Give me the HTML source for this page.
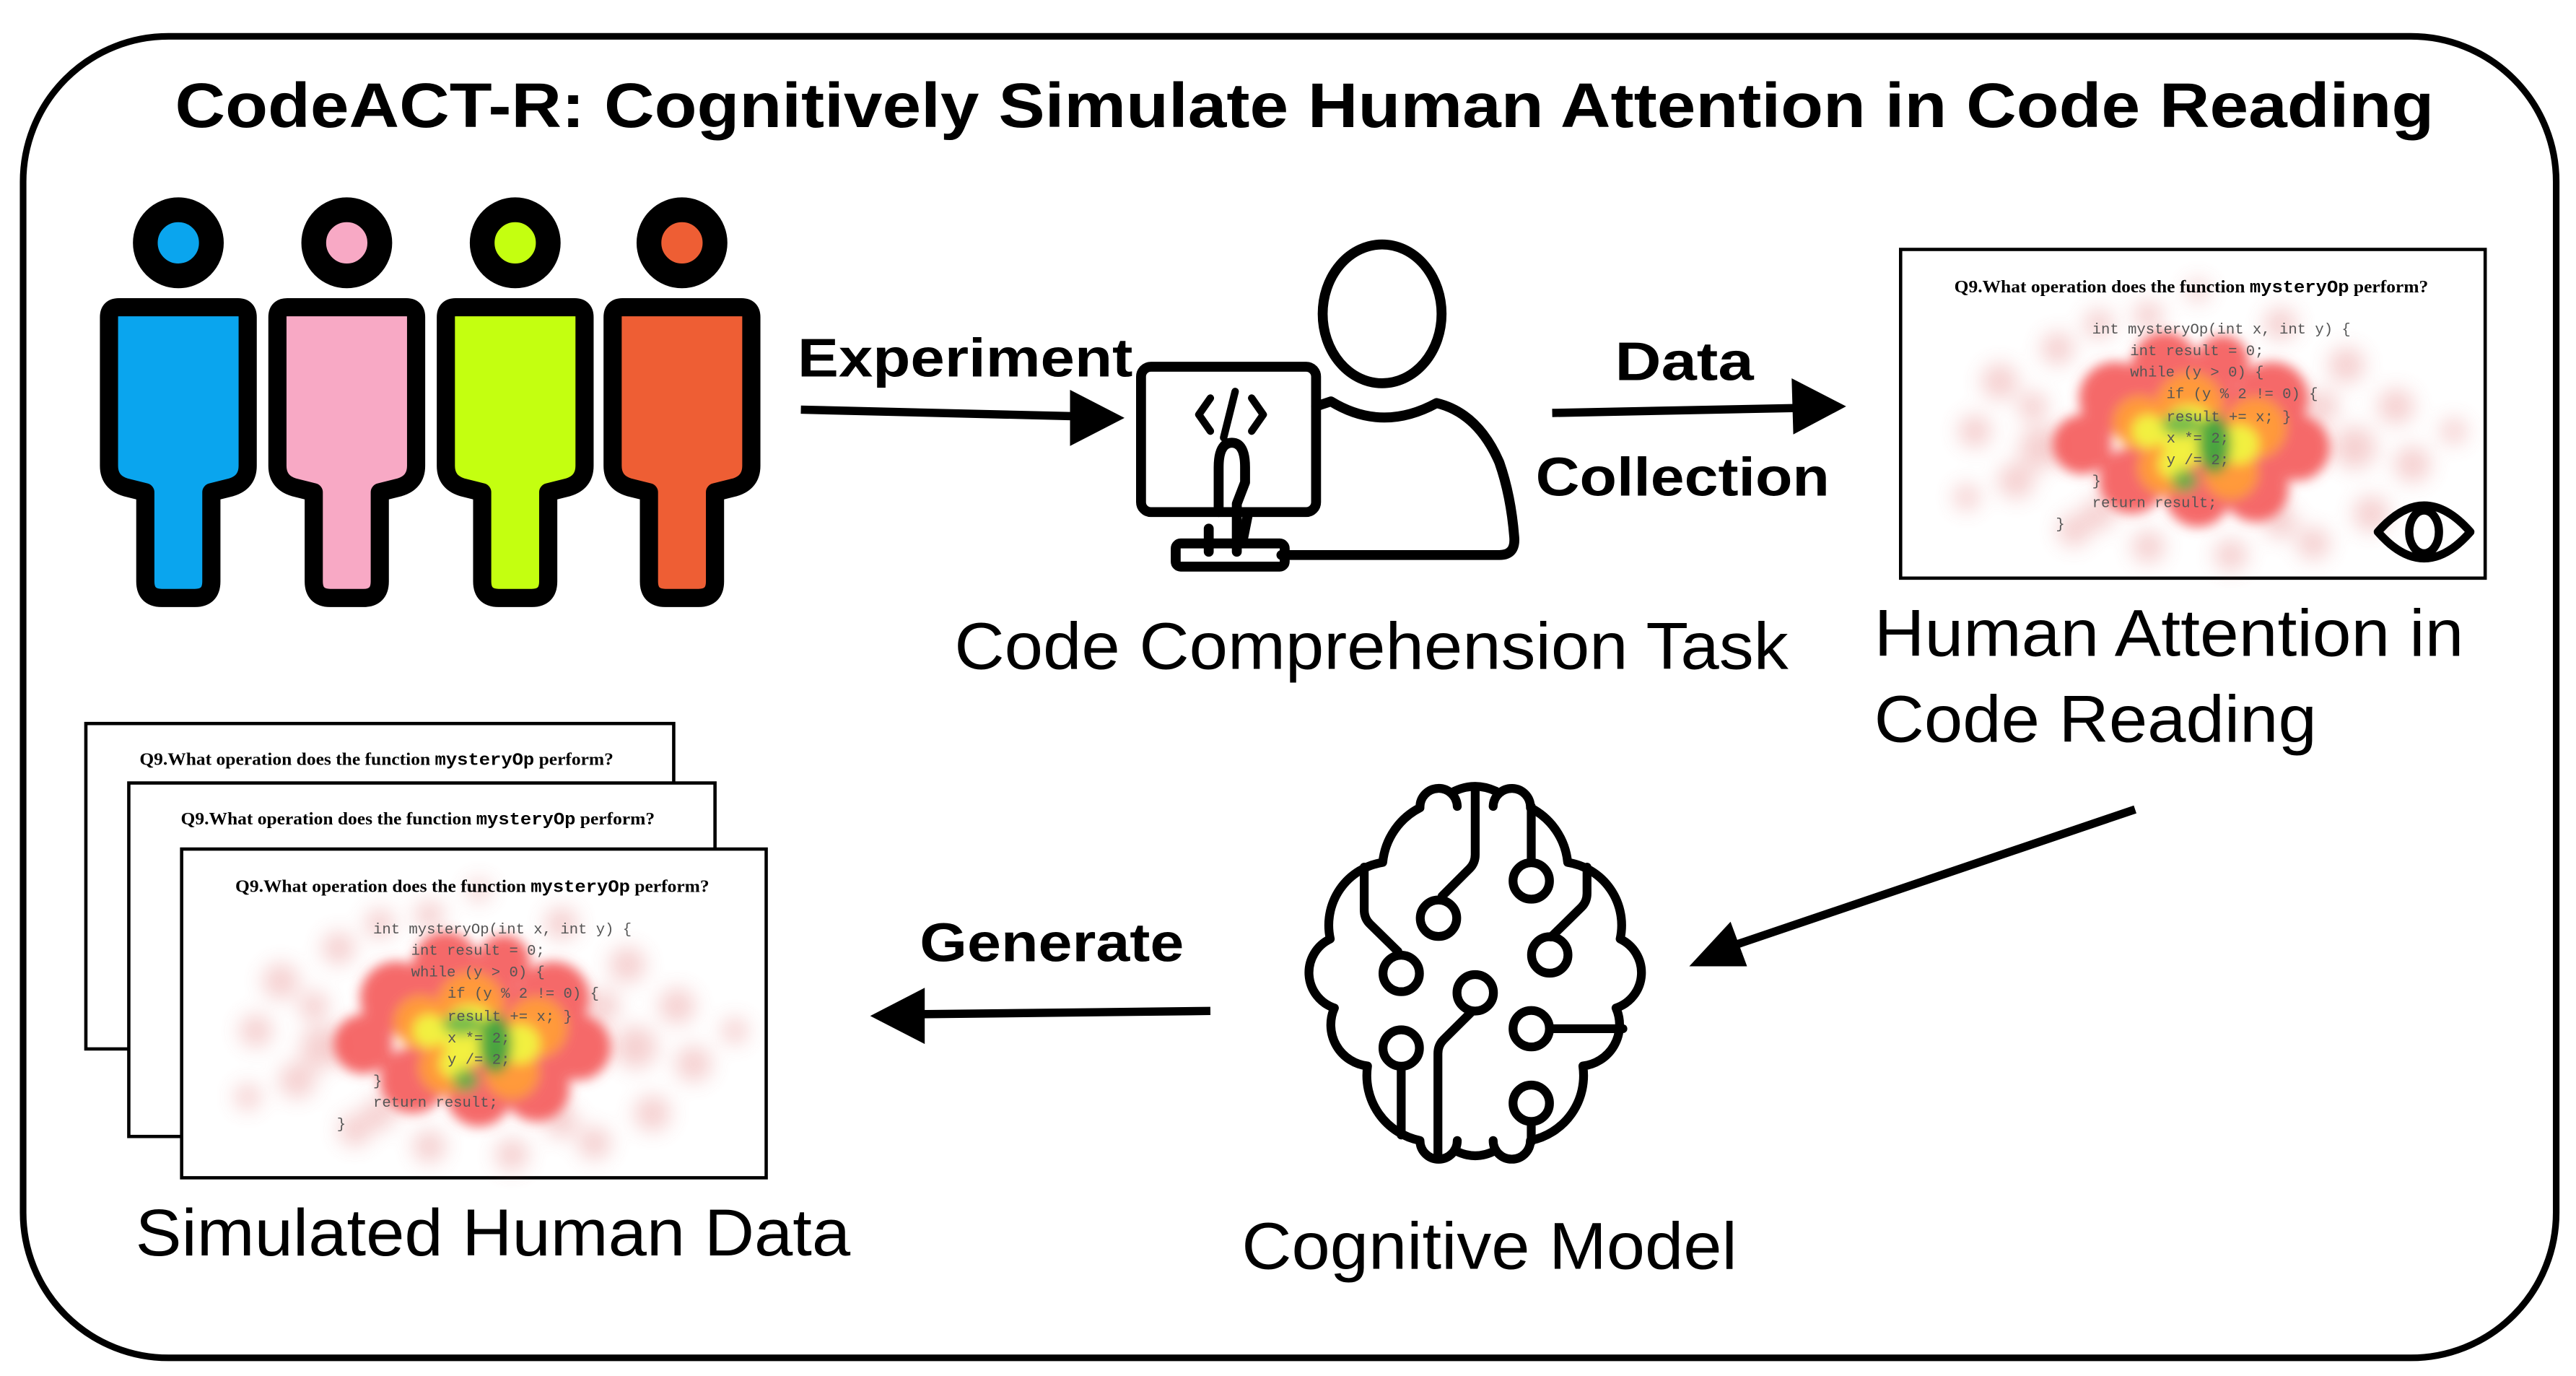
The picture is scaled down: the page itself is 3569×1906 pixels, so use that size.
<!DOCTYPE html>
<html><head><meta charset="utf-8"><style>
html,body{margin:0;padding:0;background:#fff;}
svg{display:block;}
</style></head><body>
<svg width="3569" height="1906" viewBox="0 0 1560 833" preserveAspectRatio="none" xmlns="http://www.w3.org/2000/svg" font-family="'Liberation Sans', Arial, sans-serif">
<defs>
  <filter id="bl" x="-30%" y="-30%" width="160%" height="160%"><feGaussianBlur stdDeviation="6"/></filter>
  <filter id="bl2" x="-30%" y="-30%" width="160%" height="160%"><feGaussianBlur stdDeviation="3.5"/></filter>
  <g id="hm">
    <rect x="0" y="0" width="354" height="199" fill="#fff" stroke="#000" stroke-width="2"/>
    <g filter="url(#bl)" opacity="0.3" fill="#e06868">
      <circle cx="60" cy="80" r="11"/><circle cx="45" cy="110" r="10"/><circle cx="70" cy="140" r="11"/>
      <circle cx="95" cy="60" r="10"/><circle cx="120" cy="45" r="9"/><circle cx="150" cy="40" r="9"/>
      <circle cx="230" cy="45" r="10"/><circle cx="270" cy="70" r="11"/><circle cx="300" cy="95" r="11"/>
      <circle cx="310" cy="130" r="11"/><circle cx="285" cy="160" r="11"/><circle cx="250" cy="178" r="10"/>
      <circle cx="200" cy="185" r="10"/><circle cx="150" cy="180" r="10"/><circle cx="105" cy="170" r="10"/>
      <circle cx="40" cy="150" r="8"/><circle cx="335" cy="110" r="8"/><circle cx="180" cy="25" r="7"/>
      <circle cx="85" cy="120" r="13"/><circle cx="275" cy="120" r="13"/><circle cx="80" cy="95" r="9"/>
      <circle cx="255" cy="95" r="10"/><circle cx="120" cy="160" r="10"/><circle cx="230" cy="165" r="10"/>
    </g>
    <g filter="url(#bl2)">
      <g fill="#f45050" opacity="0.85">
        <circle cx="130" cy="90" r="22"/><circle cx="160" cy="70" r="20"/><circle cx="195" cy="68" r="16"/>
        <circle cx="225" cy="90" r="22"/><circle cx="240" cy="120" r="20"/><circle cx="215" cy="145" r="20"/>
        <circle cx="180" cy="148" r="20"/><circle cx="140" cy="140" r="20"/><circle cx="110" cy="118" r="18"/>
        <circle cx="180" cy="108" r="34"/>
      </g>
      <g fill="#ff9a3a">
        <circle cx="145" cy="105" r="16"/><circle cx="175" cy="95" r="20"/><circle cx="215" cy="108" r="18"/>
        <circle cx="200" cy="135" r="16"/><circle cx="160" cy="132" r="16"/>
      </g>
      <g fill="#f2f040">
        <circle cx="150" cy="110" r="10"/><circle cx="175" cy="112" r="18"/><circle cx="205" cy="118" r="12"/>
        <circle cx="165" cy="130" r="9"/>
      </g>
      <ellipse cx="190" cy="118" rx="10" ry="18" fill="#3aa040" opacity="0.9"/>
      <ellipse cx="170" cy="106" rx="12" ry="7" fill="#5ab04a" opacity="0.8"/>
      <ellipse cx="172" cy="140" rx="8" ry="7" fill="#5ab04a" opacity="0.8"/>
    </g>
    <text x="176" y="26" text-anchor="middle" font-family="'Liberation Serif', serif" font-weight="bold" font-size="10.5" textLength="287" lengthAdjust="spacingAndGlyphs">Q9.What operation does the function <tspan font-family="'Liberation Mono', monospace">mysteryOp</tspan> perform?</text>
    <g font-family="'Liberation Mono', monospace" font-size="9" fill="#555">
      <text x="116" y="51">int mysteryOp(int x, int y) {</text>
      <text x="139" y="64">int result = 0;</text>
      <text x="139" y="77">while (y &gt; 0) {</text>
      <text x="161" y="90">if (y % 2 != 0) {</text>
      <text x="161" y="104">result += x; }</text>
      <text x="161" y="117">x *= 2;</text>
      <text x="161" y="130">y /= 2;</text>
      <text x="116" y="143">}</text>
      <text x="116" y="156">return result;</text>
      <text x="94" y="169">}</text>
    </g>
  </g>
</defs>

<rect x="14" y="22" width="1534" height="800" rx="88" ry="88" fill="#fff" stroke="#000" stroke-width="4"/>

<text x="790" y="77" text-anchor="middle" font-weight="bold" font-size="38" textLength="1368" lengthAdjust="spacingAndGlyphs">CodeACT-R: Cognitively Simulate Human Attention in Code Reading</text>

<g stroke="#000" stroke-width="11" stroke-linejoin="round">
  <g>
    <path d="M66,192 Q66,186 72,186 L144,186 Q150,186 150,192 L150,282 Q150,292 140,295 L128,298 L128,352 Q128,362 118,362 L98,362 Q88,362 88,352 L88,298 L76,295 Q66,292 66,282 Z" fill="#0aa5ee"/>
    <circle cx="108" cy="147" r="20" fill="#0aa5ee" stroke-width="15"/>
  </g>
  <g transform="translate(102,0)">
    <path d="M66,192 Q66,186 72,186 L144,186 Q150,186 150,192 L150,282 Q150,292 140,295 L128,298 L128,352 Q128,362 118,362 L98,362 Q88,362 88,352 L88,298 L76,295 Q66,292 66,282 Z" fill="#f8a9c5"/>
    <circle cx="108" cy="147" r="20" fill="#f8a9c5" stroke-width="15"/>
  </g>
  <g transform="translate(204,0)">
    <path d="M66,192 Q66,186 72,186 L144,186 Q150,186 150,192 L150,282 Q150,292 140,295 L128,298 L128,352 Q128,362 118,362 L98,362 Q88,362 88,352 L88,298 L76,295 Q66,292 66,282 Z" fill="#c4ff10"/>
    <circle cx="108" cy="147" r="20" fill="#c4ff10" stroke-width="15"/>
  </g>
  <g transform="translate(305,0)">
    <path d="M66,192 Q66,186 72,186 L144,186 Q150,186 150,192 L150,282 Q150,292 140,295 L128,298 L128,352 Q128,362 118,362 L98,362 Q88,362 88,352 L88,298 L76,295 Q66,292 66,282 Z" fill="#ee5e34"/>
    <circle cx="108" cy="147" r="20" fill="#ee5e34" stroke-width="15"/>
  </g>
</g>

<text x="483" y="228" font-weight="bold" font-size="33" textLength="203" lengthAdjust="spacingAndGlyphs">Experiment</text>
<line x1="485" y1="248" x2="652" y2="252" stroke="#000" stroke-width="5"/>
<polygon points="681,253 648,236 648,270" fill="#000"/>

<g fill="none" stroke="#000" stroke-width="6" stroke-linejoin="round" stroke-linecap="round">
  <ellipse cx="837" cy="190" rx="36" ry="42"/>
  <path d="M797,246 L806,243 Q837,262 870,244 Q895,250 908,280 Q915,300 917,325 Q918,336 908,336 L776,336"/>
  <rect x="691" y="222" width="106" height="88" rx="6"/>
  <path d="M738,310 L738,283 Q738,268 746,268 Q754,268 754,283 L754,292 L749,305 L749,334"/>
  <path d="M732,320 L732,334 M756,310 L753,325"/>
  <rect x="712" y="329" width="66" height="14" rx="3"/>
  <path d="M733,241 L726,251 L733,261 M758,241 L765,251 L758,261 M748,237 L741,265" stroke-width="4.5"/>
</g>

<text x="978" y="230" font-weight="bold" font-size="33" textLength="84" lengthAdjust="spacingAndGlyphs">Data</text>
<text x="930" y="300" font-weight="bold" font-size="33" textLength="178" lengthAdjust="spacingAndGlyphs">Collection</text>
<line x1="940" y1="250" x2="1088" y2="247" stroke="#000" stroke-width="5"/>
<polygon points="1118,246 1085,229 1086,263" fill="#000"/>

<use href="#hm" transform="translate(1151,151)"/>
<g fill="none" stroke="#000" stroke-width="5">
  <path d="M1440,322 Q1468,290 1496,322 Q1468,354 1440,322 Z" stroke-linejoin="round"/>
  <ellipse cx="1468" cy="322" rx="9" ry="13"/>
</g>

<text x="578" y="405" font-size="40" textLength="505" lengthAdjust="spacingAndGlyphs">Code Comprehension Task</text>
<text x="1135" y="397" font-size="40" textLength="357" lengthAdjust="spacingAndGlyphs">Human Attention in</text>
<text x="1135" y="449" font-size="40" textLength="268" lengthAdjust="spacingAndGlyphs">Code Reading</text>

<line x1="1293" y1="490" x2="1048" y2="573" stroke="#000" stroke-width="5"/>
<polygon points="1023,585 1048,558 1058,585" fill="#000"/>

<g transform="translate(778,458.9) scale(0.1672)" fill="none" stroke="#000" stroke-width="32" stroke-linecap="round" stroke-linejoin="round">
  <path d="M625,175 A65,65 0 1 0 490,180 A250,250 0 0 0 355,378 A230,230 0 0 0 165,655 A135,135 0 0 0 180,905 A150,150 0 0 0 300,1115 A240,240 0 0 0 490,1385 A66,66 0 0 0 625,1385"/>
  <path d="M755,175 A65,65 0 1 1 890,180 A250,250 0 0 1 1025,378 A230,230 0 0 1 1215,655 A135,135 0 0 1 1200,905 A150,150 0 0 1 1080,1115 A240,240 0 0 1 890,1385 A66,66 0 0 1 755,1385"/>
  <path d="M615,120 Q690,85 765,120"/>
  <path d="M615,1420 Q690,1460 765,1420"/>
  <path d="M690,110 L690,350 Q690,380 670,400 L570,500"/>
  <circle cx="557" cy="580" r="66"/>
  <path d="M893,175 L893,378"/>
  <circle cx="893" cy="445" r="66"/>
  <path d="M288,395 L288,550 Q288,580 308,600 L410,700"/>
  <circle cx="422" cy="780" r="66"/>
  <path d="M1095,395 L1095,490 Q1095,520 1075,540 L965,648"/>
  <circle cx="960" cy="713" r="66"/>
  <circle cx="690" cy="850" r="66"/>
  <path d="M680,916 L575,1020 Q555,1040 555,1070 L555,1440"/>
  <circle cx="893" cy="980" r="66"/>
  <path d="M960,980 L1225,980"/>
  <circle cx="422" cy="1050" r="66"/>
  <path d="M422,1116 L422,1365"/>
  <circle cx="893" cy="1250" r="66"/>
  <path d="M893,1316 L893,1390"/>
</g>
<text x="752" y="768" font-size="40" textLength="300" lengthAdjust="spacingAndGlyphs">Cognitive Model</text>

<text x="557" y="582" font-weight="bold" font-size="33" textLength="160" lengthAdjust="spacingAndGlyphs">Generate</text>
<line x1="733" y1="612" x2="556" y2="614" stroke="#000" stroke-width="5"/>
<polygon points="527,615 560,598 560,632" fill="#000"/>

<rect x="52" y="438" width="356" height="197" fill="#fff" stroke="#000" stroke-width="2"/>
<text x="228" y="463" text-anchor="middle" font-family="'Liberation Serif', serif" font-weight="bold" font-size="10.5" textLength="287" lengthAdjust="spacingAndGlyphs">Q9.What operation does the function <tspan font-family="'Liberation Mono', monospace">mysteryOp</tspan> perform?</text>
<rect x="78" y="474" width="355" height="214" fill="#fff" stroke="#000" stroke-width="2"/>
<text x="253" y="499" text-anchor="middle" font-family="'Liberation Serif', serif" font-weight="bold" font-size="10.5" textLength="287" lengthAdjust="spacingAndGlyphs">Q9.What operation does the function <tspan font-family="'Liberation Mono', monospace">mysteryOp</tspan> perform?</text>
<use href="#hm" transform="translate(110,514)"/>

<text x="82" y="760" font-size="40" textLength="433" lengthAdjust="spacingAndGlyphs">Simulated Human Data</text>
</svg>
</body></html>
